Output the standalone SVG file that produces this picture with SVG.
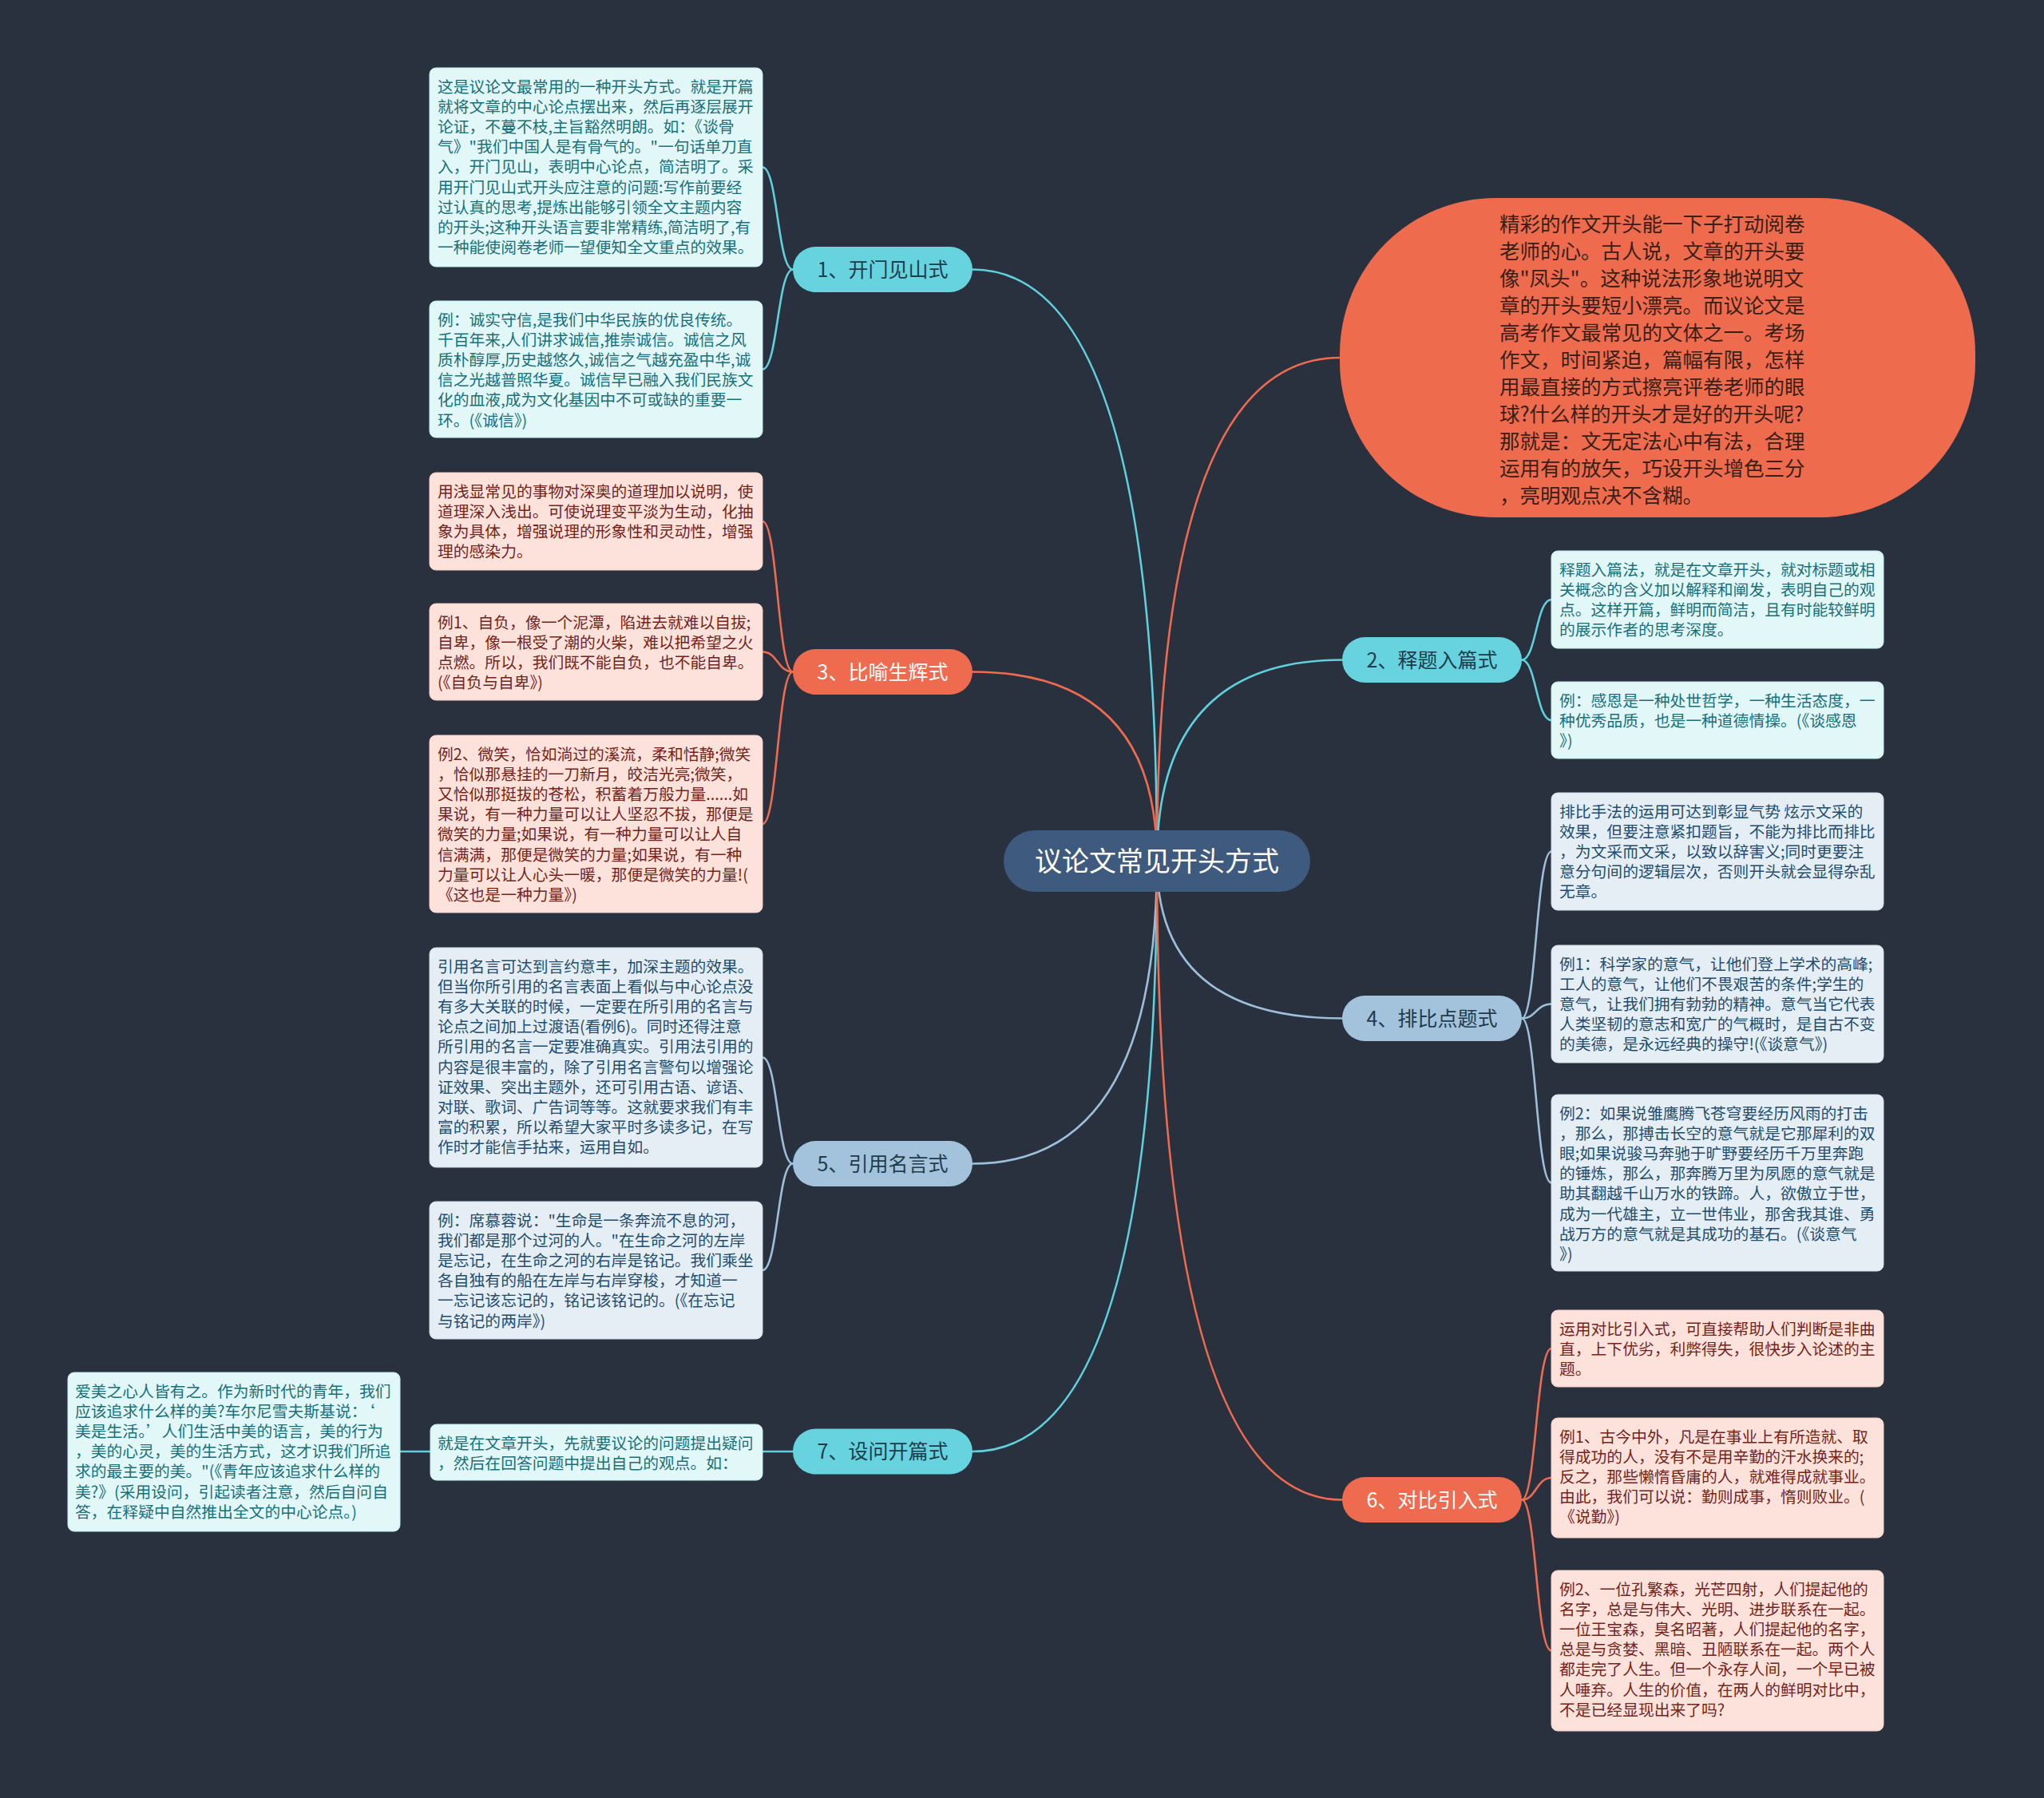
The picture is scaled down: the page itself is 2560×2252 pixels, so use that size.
<svg xmlns="http://www.w3.org/2000/svg" width="2560" height="2252" viewBox="0 0 2560 2252">
<style>
text{font-family:"Noto Sans CJK SC","Noto Sans",sans-serif}
.bx{font-size:19.8px}
.cy{fill:#e2f7f8;stroke:#c4eef2;stroke-width:1}
.cyt{fill:#17707b}
.sa{fill:#fde2dc;stroke:#f6cfc6;stroke-width:1}
.sat{fill:#75241a}
.bl{fill:#e5eef5;stroke:#cddceb;stroke-width:1}
.blt{fill:#234d6e}
.br{font-size:25px;text-anchor:middle}
.lc{fill:none;stroke-width:2.6;stroke-linecap:round}
.c1{stroke:#5fd0dc}.c2{stroke:#ee6b4f}.c3{stroke:#9dbfd9}
</style>
<rect width="2560" height="2252" fill="#29313f"/>
<g id="connectors">
<path class="lc c1" d="M1449,1078 Q1449,337.5 1218,337.5"/>
<path class="lc c2" d="M1449,1078 Q1449,841.5 1218,841.5"/>
<path class="lc c3" d="M1449,1078 Q1449,1457.5 1218,1457.5"/>
<path class="lc c1" d="M1449,1078 Q1449,1818 1218,1818"/>
<path class="lc c2" d="M1449,1078 Q1449,448 1678,448"/>
<path class="lc c1" d="M1449,1078 Q1449,826.5 1681,826.5"/>
<path class="lc c3" d="M1449,1078 Q1449,1275.5 1681,1275.5"/>
<path class="lc c2" d="M1449,1078 Q1449,1878.5 1681,1878.5"/>
<path class="lc c1" d="M993,337.5 C974,337.5 974,209.5 955,209.5"/>
<path class="lc c1" d="M993,337.5 C974,337.5 974,462.5 955,462.5"/>
<path class="lc c2" d="M993,841.5 C974,841.5 974,653 955,653"/>
<path class="lc c2" d="M993,841.5 C974,841.5 974,816.5 955,816.5"/>
<path class="lc c2" d="M993,841.5 C974,841.5 974,1032 955,1032"/>
<path class="lc c3" d="M993,1457.5 C974,1457.5 974,1324.5 955,1324.5"/>
<path class="lc c3" d="M993,1457.5 C974,1457.5 974,1591 955,1591"/>
<path class="lc c1" d="M993,1818 L955,1818"/>
<path class="lc c1" d="M539,1818 L501,1818"/>
<path class="lc c1" d="M1906,826.5 C1924,826.5 1924,751 1943,751"/>
<path class="lc c1" d="M1906,826.5 C1924,826.5 1924,902 1943,902"/>
<path class="lc c3" d="M1906,1275.5 C1924,1275.5 1924,1066.5 1943,1066.5"/>
<path class="lc c3" d="M1906,1275.5 C1924,1275.5 1924,1257.5 1943,1257.5"/>
<path class="lc c3" d="M1906,1275.5 C1924,1275.5 1924,1481.5 1943,1481.5"/>
<path class="lc c2" d="M1906,1878.5 C1924,1878.5 1924,1689 1943,1689"/>
<path class="lc c2" d="M1906,1878.5 C1924,1878.5 1924,1851 1943,1851"/>
<path class="lc c2" d="M1906,1878.5 C1924,1878.5 1924,2067.5 1943,2067.5"/>
</g>
<g id="center">
<rect x="1257" y="1040" width="384" height="77" rx="38.5" fill="#3e5a7e"/>
<text x="1449" y="1091" font-size="34" text-anchor="middle" fill="#ffffff">议论文常见开头方式</text>
</g>
<g id="intro">
<rect x="1678" y="248" width="796" height="400" rx="195" fill="#ee6b4d"/>
<text font-size="25.5" fill="#3a1f18">
<tspan x="1878" y="289.7">精彩的作文开头能一下子打动阅卷</tspan>
<tspan x="1878" y="323.7">老师的心。古人说，文章的开头要</tspan>
<tspan x="1878" y="357.7">像"凤头"。这种说法形象地说明文</tspan>
<tspan x="1878" y="391.7">章的开头要短小漂亮。而议论文是</tspan>
<tspan x="1878" y="425.7">高考作文最常见的文体之一。考场</tspan>
<tspan x="1878" y="459.7">作文，时间紧迫，篇幅有限，怎样</tspan>
<tspan x="1878" y="493.7">用最直接的方式擦亮评卷老师的眼</tspan>
<tspan x="1878" y="527.7">球?什么样的开头才是好的开头呢?</tspan>
<tspan x="1878" y="561.7">那就是：文无定法心中有法，合理</tspan>
<tspan x="1878" y="595.7">运用有的放矢，巧设开头增色三分</tspan>
<tspan x="1878" y="629.7">，亮明观点决不含糊。</tspan>
</text>
</g>
<g id="b1">
<rect x="993" y="309" width="225" height="57" rx="28.5" fill="#66d3df"/>
<text class="br" x="1105.5" y="346.5" fill="#1e3d4c">1、开门见山式</text>
</g>
<g id="b3">
<rect x="993" y="813" width="225" height="57" rx="28.5" fill="#ee6b4f"/>
<text class="br" x="1105.5" y="850.5" fill="#ffffff">3、比喻生辉式</text>
</g>
<g id="b5">
<rect x="993" y="1429" width="225" height="57" rx="28.5" fill="#a3c2dc"/>
<text class="br" x="1105.5" y="1466.5" fill="#1e3d4c">5、引用名言式</text>
</g>
<g id="b7">
<rect x="993" y="1789.5" width="225" height="57" rx="28.5" fill="#66d3df"/>
<text class="br" x="1105.5" y="1827" fill="#1e3d4c">7、设问开篇式</text>
</g>
<g id="b2">
<rect x="1681" y="798" width="225" height="57" rx="28.5" fill="#66d3df"/>
<text class="br" x="1793.5" y="835.5" fill="#1e3d4c">2、释题入篇式</text>
</g>
<g id="b4">
<rect x="1681" y="1247" width="225" height="57" rx="28.5" fill="#a3c2dc"/>
<text class="br" x="1793.5" y="1284.5" fill="#1e3d4c">4、排比点题式</text>
</g>
<g id="b6">
<rect x="1681" y="1850" width="225" height="57" rx="28.5" fill="#ee6b4f"/>
<text class="br" x="1793.5" y="1887.5" fill="#ffffff">6、对比引入式</text>
</g>
<g id="l1">
<rect class="cy" x="538" y="85" width="417" height="249" rx="8"/>
<text class="bx cyt">
<tspan x="548" y="115.6">这是议论文最常用的一种开头方式。就是开篇</tspan>
<tspan x="548" y="140.8">就将文章的中心论点摆出来，然后再逐层展开</tspan>
<tspan x="548" y="166">论证，不蔓不枝,主旨豁然明朗。如：《谈骨</tspan>
<tspan x="548" y="191.2">气》"我们中国人是有骨气的。"一句话单刀直</tspan>
<tspan x="548" y="216.4">入，开门见山，表明中心论点，简洁明了。采</tspan>
<tspan x="548" y="241.6">用开门见山式开头应注意的问题:写作前要经</tspan>
<tspan x="548" y="266.8">过认真的思考,提炼出能够引领全文主题内容</tspan>
<tspan x="548" y="292">的开头;这种开头语言要非常精练,简洁明了,有</tspan>
<tspan x="548" y="317.2">一种能使阅卷老师一望便知全文重点的效果。</tspan>
</text>
</g>
<g id="l2">
<rect class="cy" x="538" y="377" width="417" height="171" rx="8"/>
<text class="bx cyt">
<tspan x="548" y="407.6">例：诚实守信,是我们中华民族的优良传统。</tspan>
<tspan x="548" y="432.8">千百年来,人们讲求诚信,推崇诚信。诚信之风</tspan>
<tspan x="548" y="458">质朴醇厚,历史越悠久,诚信之气越充盈中华,诚</tspan>
<tspan x="548" y="483.2">信之光越普照华夏。诚信早已融入我们民族文</tspan>
<tspan x="548" y="508.4">化的血液,成为文化基因中不可或缺的重要一</tspan>
<tspan x="548" y="533.6">环。(《诚信》)</tspan>
</text>
</g>
<g id="l3">
<rect class="sa" x="538" y="592" width="417" height="122" rx="8"/>
<text class="bx sat">
<tspan x="548" y="622.6">用浅显常见的事物对深奥的道理加以说明，使</tspan>
<tspan x="548" y="647.8">道理深入浅出。可使说理变平淡为生动，化抽</tspan>
<tspan x="548" y="673">象为具体，增强说理的形象性和灵动性，增强</tspan>
<tspan x="548" y="698.2">理的感染力。</tspan>
</text>
</g>
<g id="l4">
<rect class="sa" x="538" y="756" width="417" height="121" rx="8"/>
<text class="bx sat">
<tspan x="548" y="786.6">例1、自负，像一个泥潭，陷进去就难以自拔;</tspan>
<tspan x="548" y="811.8">自卑，像一根受了潮的火柴，难以把希望之火</tspan>
<tspan x="548" y="837">点燃。所以，我们既不能自负，也不能自卑。</tspan>
<tspan x="548" y="862.2">(《自负与自卑》)</tspan>
</text>
</g>
<g id="l5">
<rect class="sa" x="538" y="921" width="417" height="222" rx="8"/>
<text class="bx sat">
<tspan x="548" y="951.6">例2、微笑，恰如淌过的溪流，柔和恬静;微笑</tspan>
<tspan x="548" y="976.8">，恰似那悬挂的一刀新月，皎洁光亮;微笑，</tspan>
<tspan x="548" y="1002">又恰似那挺拔的苍松，积蓄着万般力量......如</tspan>
<tspan x="548" y="1027.2">果说，有一种力量可以让人坚忍不拔，那便是</tspan>
<tspan x="548" y="1052.4">微笑的力量;如果说，有一种力量可以让人自</tspan>
<tspan x="548" y="1077.6">信满满，那便是微笑的力量;如果说，有一种</tspan>
<tspan x="548" y="1102.8">力量可以让人心头一暖，那便是微笑的力量!(</tspan>
<tspan x="548" y="1128">《这也是一种力量》)</tspan>
</text>
</g>
<g id="l6">
<rect class="bl" x="538" y="1187" width="417" height="275" rx="8"/>
<text class="bx blt">
<tspan x="548" y="1217.6">引用名言可达到言约意丰，加深主题的效果。</tspan>
<tspan x="548" y="1242.8">但当你所引用的名言表面上看似与中心论点没</tspan>
<tspan x="548" y="1268">有多大关联的时候，一定要在所引用的名言与</tspan>
<tspan x="548" y="1293.2">论点之间加上过渡语(看例6)。同时还得注意</tspan>
<tspan x="548" y="1318.4">所引用的名言一定要准确真实。引用法引用的</tspan>
<tspan x="548" y="1343.6">内容是很丰富的，除了引用名言警句以增强论</tspan>
<tspan x="548" y="1368.8">证效果、突出主题外，还可引用古语、谚语、</tspan>
<tspan x="548" y="1394">对联、歌词、广告词等等。这就要求我们有丰</tspan>
<tspan x="548" y="1419.2">富的积累，所以希望大家平时多读多记，在写</tspan>
<tspan x="548" y="1444.4">作时才能信手拈来，运用自如。</tspan>
</text>
</g>
<g id="l7">
<rect class="bl" x="538" y="1505" width="417" height="172" rx="8"/>
<text class="bx blt">
<tspan x="548" y="1535.6">例：席慕蓉说："生命是一条奔流不息的河，</tspan>
<tspan x="548" y="1560.8">我们都是那个过河的人。"在生命之河的左岸</tspan>
<tspan x="548" y="1586">是忘记，在生命之河的右岸是铭记。我们乘坐</tspan>
<tspan x="548" y="1611.2">各自独有的船在左岸与右岸穿梭，才知道一</tspan>
<tspan x="548" y="1636.4">一忘记该忘记的，铭记该铭记的。(《在忘记</tspan>
<tspan x="548" y="1661.6">与铭记的两岸》)</tspan>
</text>
</g>
<g id="l9">
<rect class="cy" x="539" y="1784" width="416" height="70" rx="8"/>
<text class="bx cyt">
<tspan x="548" y="1814.6">就是在文章开头，先就要议论的问题提出疑问</tspan>
<tspan x="548" y="1839.8">，然后在回答问题中提出自己的观点。如：</tspan>
</text>
</g>
<g id="l8">
<rect class="cy" x="85" y="1719" width="416" height="199" rx="8"/>
<text class="bx cyt">
<tspan x="94" y="1749.6">爱美之心人皆有之。作为新时代的青年，我们</tspan>
<tspan x="94" y="1774.8">应该追求什么样的美?车尔尼雪夫斯基说：‘</tspan>
<tspan x="94" y="1800">美是生活。’人们生活中美的语言，美的行为</tspan>
<tspan x="94" y="1825.2">，美的心灵，美的生活方式，这才识我们所追</tspan>
<tspan x="94" y="1850.4">求的最主要的美。"(《青年应该追求什么样的</tspan>
<tspan x="94" y="1875.6">美?》(采用设问，引起读者注意，然后自问自</tspan>
<tspan x="94" y="1900.8">答，在释疑中自然推出全文的中心论点。)</tspan>
</text>
</g>
<g id="r1">
<rect class="cy" x="1943" y="690" width="416" height="122" rx="8"/>
<text class="bx cyt">
<tspan x="1953" y="720.6">释题入篇法，就是在文章开头，就对标题或相</tspan>
<tspan x="1953" y="745.8">关概念的含义加以解释和阐发，表明自己的观</tspan>
<tspan x="1953" y="771">点。这样开篇，鲜明而简洁，且有时能较鲜明</tspan>
<tspan x="1953" y="796.2">的展示作者的思考深度。</tspan>
</text>
</g>
<g id="r2">
<rect class="cy" x="1943" y="854" width="416" height="96" rx="8"/>
<text class="bx cyt">
<tspan x="1953" y="884.6">例：感恩是一种处世哲学，一种生活态度，一</tspan>
<tspan x="1953" y="909.8">种优秀品质，也是一种道德情操。(《谈感恩</tspan>
<tspan x="1953" y="935">》)</tspan>
</text>
</g>
<g id="r3">
<rect class="bl" x="1943" y="993" width="416" height="147" rx="8"/>
<text class="bx blt">
<tspan x="1953" y="1023.6">排比手法的运用可达到彰显气势 炫示文采的</tspan>
<tspan x="1953" y="1048.8">效果，但要注意紧扣题旨，不能为排比而排比</tspan>
<tspan x="1953" y="1074">，为文采而文采，以致以辞害义;同时更要注</tspan>
<tspan x="1953" y="1099.2">意分句间的逻辑层次，否则开头就会显得杂乱</tspan>
<tspan x="1953" y="1124.4">无章。</tspan>
</text>
</g>
<g id="r4">
<rect class="bl" x="1943" y="1184" width="416" height="147" rx="8"/>
<text class="bx blt">
<tspan x="1953" y="1214.6">例1：科学家的意气，让他们登上学术的高峰;</tspan>
<tspan x="1953" y="1239.8">工人的意气，让他们不畏艰苦的条件;学生的</tspan>
<tspan x="1953" y="1265">意气，让我们拥有勃勃的精神。意气当它代表</tspan>
<tspan x="1953" y="1290.2">人类坚韧的意志和宽广的气概时，是自古不变</tspan>
<tspan x="1953" y="1315.4">的美德，是永远经典的操守!(《谈意气》)</tspan>
</text>
</g>
<g id="r5">
<rect class="bl" x="1943" y="1371" width="416" height="221" rx="8"/>
<text class="bx blt">
<tspan x="1953" y="1401.6">例2：如果说雏鹰腾飞苍穹要经历风雨的打击</tspan>
<tspan x="1953" y="1426.8">，那么，那搏击长空的意气就是它那犀利的双</tspan>
<tspan x="1953" y="1452">眼;如果说骏马奔驰于旷野要经历千万里奔跑</tspan>
<tspan x="1953" y="1477.2">的锤炼，那么，那奔腾万里为夙愿的意气就是</tspan>
<tspan x="1953" y="1502.4">助其翻越千山万水的铁蹄。人，欲傲立于世，</tspan>
<tspan x="1953" y="1527.6">成为一代雄主，立一世伟业，那舍我其谁、勇</tspan>
<tspan x="1953" y="1552.8">战万方的意气就是其成功的基石。(《谈意气</tspan>
<tspan x="1953" y="1578">》)</tspan>
</text>
</g>
<g id="r6">
<rect class="sa" x="1943" y="1641" width="416" height="96" rx="8"/>
<text class="bx sat">
<tspan x="1953" y="1671.6">运用对比引入式，可直接帮助人们判断是非曲</tspan>
<tspan x="1953" y="1696.8">直，上下优劣，利弊得失，很快步入论述的主</tspan>
<tspan x="1953" y="1722">题。</tspan>
</text>
</g>
<g id="r7">
<rect class="sa" x="1943" y="1776" width="416" height="150" rx="8"/>
<text class="bx sat">
<tspan x="1953" y="1806.6">例1、古今中外，凡是在事业上有所造就、取</tspan>
<tspan x="1953" y="1831.8">得成功的人，没有不是用辛勤的汗水换来的;</tspan>
<tspan x="1953" y="1857">反之，那些懒惰昏庸的人，就难得成就事业。</tspan>
<tspan x="1953" y="1882.2">由此，我们可以说：勤则成事，惰则败业。(</tspan>
<tspan x="1953" y="1907.4">《说勤》)</tspan>
</text>
</g>
<g id="r8">
<rect class="sa" x="1943" y="1967" width="416" height="201" rx="8"/>
<text class="bx sat">
<tspan x="1953" y="1997.6">例2、一位孔繁森，光芒四射，人们提起他的</tspan>
<tspan x="1953" y="2022.8">名字，总是与伟大、光明、进步联系在一起。</tspan>
<tspan x="1953" y="2048">一位王宝森，臭名昭著，人们提起他的名字，</tspan>
<tspan x="1953" y="2073.2">总是与贪婪、黑暗、丑陋联系在一起。两个人</tspan>
<tspan x="1953" y="2098.4">都走完了人生。但一个永存人间，一个早已被</tspan>
<tspan x="1953" y="2123.6">人唾弃。人生的价值，在两人的鲜明对比中，</tspan>
<tspan x="1953" y="2148.8">不是已经显现出来了吗?</tspan>
</text>
</g>
</svg>
